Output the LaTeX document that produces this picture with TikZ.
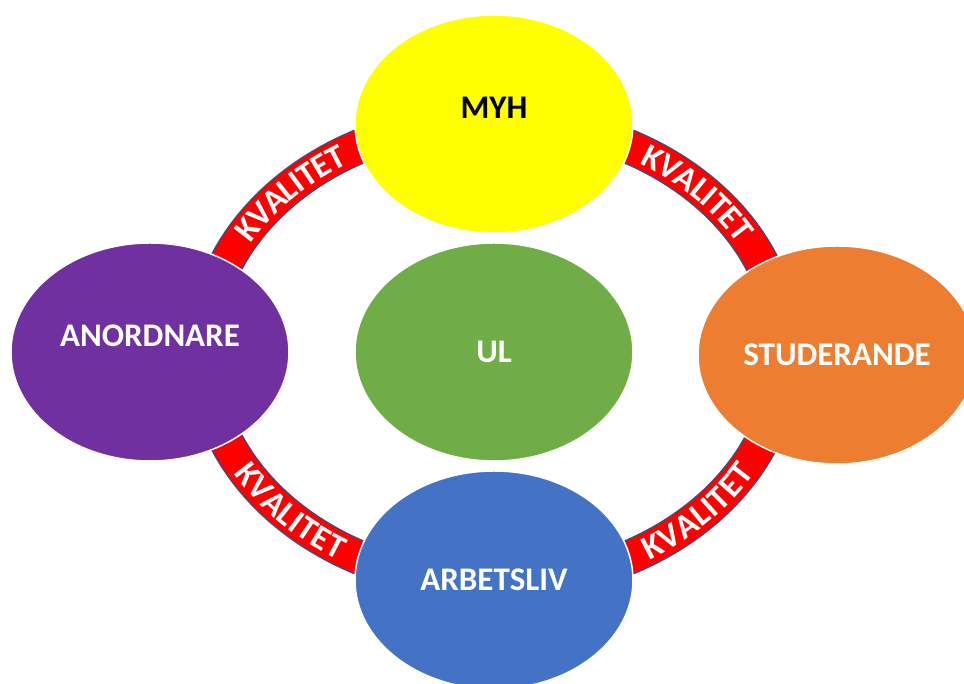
\documentclass[tikz,border=0pt]{standalone}
\usepackage{fontspec}
\setmainfont{Carlito}
\usepackage{tikz}
\usetikzlibrary{shapes.geometric, decorations.text}

\definecolor{myhyellow}{RGB}{255,255,0}
\definecolor{anorpurple}{RGB}{112,48,160}
\definecolor{ulgreen}{RGB}{112,173,71}
\definecolor{studorange}{RGB}{237,125,49}
\definecolor{arbblue}{RGB}{68,114,196}
\definecolor{ringred}{RGB}{255,0,0}
\definecolor{ringedge}{RGB}{72,72,120}

\newcommand{\kvfont}{\fontsize{34}{40}\selectfont\bfseries}

\begin{document}
\begin{tikzpicture}[x=1pt, y=1pt, node distance=228pt,
        main node/.style={ellipse, draw=white, line width=1.5pt, inner sep=0pt,
            minimum width=278pt, minimum height=218pt, text=white,
            font=\fontsize{33}{40}\selectfont\bfseries},
        raised/.style={text depth=32pt},
        kvalitet/.style={decorate, decoration={text along path,
            text={|\kvfont|KVALITET}, text align=center, text color=white,
            raise=-11pt}}]

    \useasboundingbox (0,0) rectangle (964,684);
    \clip (0,0) rectangle (964,684);

    % Ring
    \coordinate (mid) at (494,332);
    \draw[ringedge, line width=35pt] (mid) ellipse [x radius=290pt, y radius=232pt];
    \draw[ringred, line width=32pt] (mid) ellipse [x radius=290pt, y radius=232pt];

    \path[kvalitet] (mid) ++(167:290pt and 232pt)
        arc [start angle=167, end angle=107, x radius=290pt, y radius=232pt];
    \path[kvalitet] (mid) ++(73:290pt and 232pt)
        arc [start angle=73, end angle=13, x radius=290pt, y radius=232pt];
    \path[kvalitet] (mid) ++(193:290pt and 232pt)
        arc [start angle=193, end angle=253, x radius=290pt, y radius=232pt];
    \path[kvalitet] (mid) ++(287:290pt and 232pt)
        arc [start angle=287, end angle=347, x radius=290pt, y radius=232pt];

    % Nodes
    \node[main node, fill=ulgreen] (ul) at (mid) {UL};
    \node[main node, fill=myhyellow, text=black, raised] (myh) [above of=ul] {MYH};
    \node[main node, fill=arbblue] (arb) [below of=ul] {ARBETSLIV};
    \node[main node, fill=anorpurple, raised] (anor) [left of=ul, node distance=344pt] {ANORDNARE};
    \node[main node, fill=studorange] (stud) [right of=ul, node distance=343pt, yshift=-3pt] {STUDERANDE};

\end{tikzpicture}
\end{document}
